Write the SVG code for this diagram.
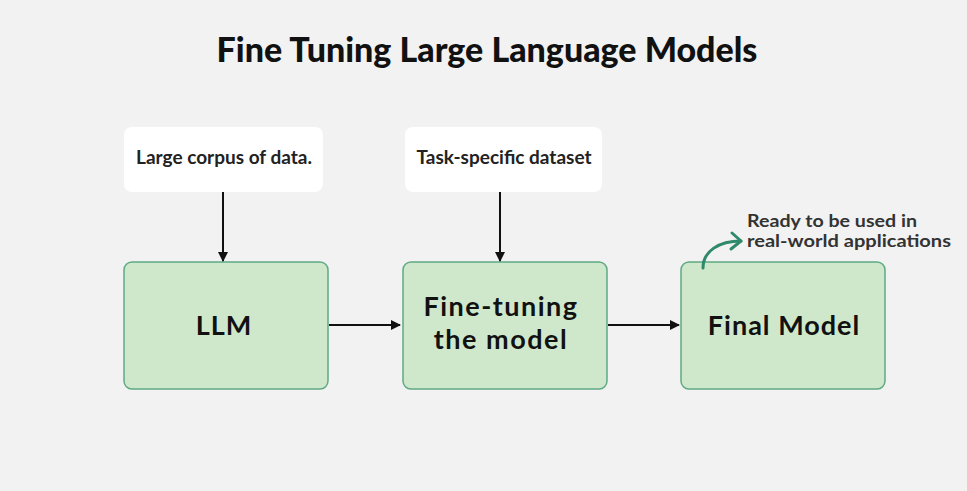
<svg xmlns="http://www.w3.org/2000/svg" width="967" height="491" viewBox="0 0 967 491">
<defs>
<style>
.bg{fill:#f2f2f2}
.node rect{fill:#cfe8cb;stroke:#5fa984;stroke-width:1.5}
.src rect{fill:#ffffff}
text{font-family:Lato,"Noto Sans",sans-serif}
.ntext{font-weight:700;font-size:27px;fill:#111;text-anchor:middle;letter-spacing:1px}
.stext{font-weight:700;font-size:19px;fill:#222;text-anchor:middle}
.title{font-weight:900;font-size:34px;fill:#111;text-anchor:middle}
.note{font-weight:700;font-size:16.5px;fill:#333}
.conn{stroke:#111;stroke-width:2;fill:none;marker-end:url(#ah)}
.green{stroke:#2f8a6c;stroke-width:3;fill:none;stroke-linecap:round;stroke-linejoin:round}
</style>
<marker id="ah" markerWidth="10" markerHeight="10" refX="9" refY="5" orient="auto" markerUnits="userSpaceOnUse">
<path d="M0,0 L10,5 L0,10 z" fill="#111"/>
</marker>
</defs>
<rect class="bg" x="0" y="0" width="967" height="491"/>
<text class="title" x="487" y="62">Fine Tuning Large Language Models</text>

<g id="src-corpus" class="src">
<rect x="124" y="127" width="199" height="65" rx="8"/>
<text class="stext" x="224" y="164">Large corpus of data.</text>
</g>
<g id="src-task" class="src">
<rect x="405" y="127" width="197" height="65" rx="8"/>
<text class="stext" x="504" y="164">Task-specific dataset</text>
</g>

<g id="node-llm" class="node">
<rect x="124" y="262" width="204" height="127" rx="8"/>
<text class="ntext" x="224" y="335">LLM</text>
</g>
<g id="node-finetune" class="node">
<rect x="403" y="262" width="204" height="127" rx="8"/>
<text class="ntext" style="letter-spacing:1.5px"><tspan x="501" y="316">Fine-tuning</tspan><tspan x="501" y="349">the model</tspan></text>
</g>
<g id="node-final" class="node">
<rect x="681" y="262" width="204" height="127" rx="8"/>
<text class="ntext" x="784" y="335">Final Model</text>
</g>

<g id="connectors">
<line class="conn" x1="223" y1="192" x2="223" y2="261"/>
<line class="conn" x1="500" y1="192" x2="500" y2="261"/>
<line class="conn" x1="329" y1="325" x2="400" y2="325"/>
<line class="conn" x1="608" y1="325" x2="679" y2="325"/>
<path class="green" d="M703,268 C703,251 719,241 741,241"/>
<path class="green" d="M732,233 L741,241 L731,249"/>
</g>

<g id="note">
<text class="note"><tspan x="747" y="227" textLength="170" lengthAdjust="spacingAndGlyphs">Ready to be used in</tspan><tspan x="747" y="247" textLength="204" lengthAdjust="spacingAndGlyphs">real-world applications</tspan></text>
</g>
</svg>
